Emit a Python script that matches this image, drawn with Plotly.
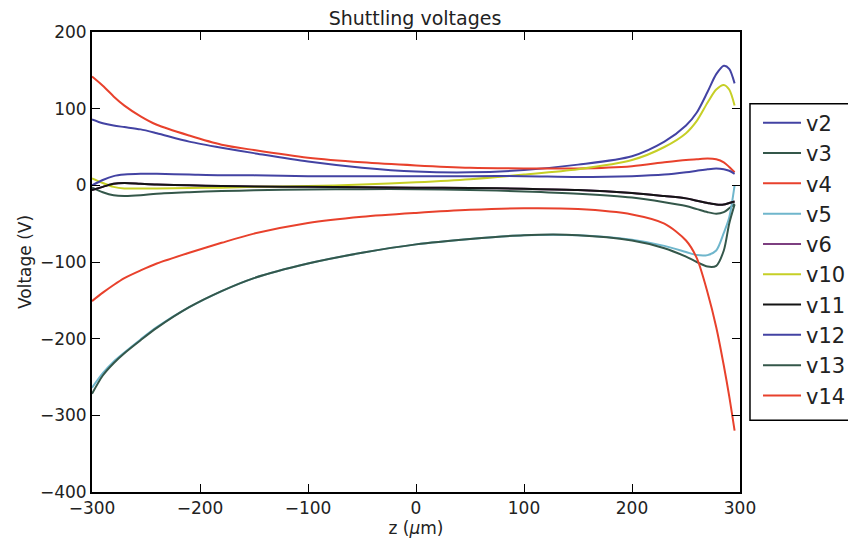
import plotly.graph_objects as go

z = [-300, -290, -280, -270, -255, -240, -210, -180, -150, -100, -50, 0,
     50, 100, 150, 200, 230, 250, 260, 270, 278, 285, 290, 295]

v2 = [86, 81, 78, 76, 73, 68, 57, 49, 42, 31, 23, 18,
      17, 20, 27, 38, 57, 78, 95, 122, 145, 156, 152, 133]
v3 = [-3, -9, -13, -14, -13, -11, -9, -7.5, -6.5, -5.5, -5, -5,
      -6, -8, -11, -16, -22, -27, -31, -35, -37, -35, -30, -24]
v4 = [142, 130, 116, 104, 90, 79, 65, 53, 46, 36, 30, 26,
      23, 22, 22, 25, 30, 33, 34, 35, 34, 30, 24, 17]
v5 = [-264, -245, -230, -218, -201, -185, -159, -138, -121, -102, -88, -77,
      -70, -65, -65, -71, -79, -87, -91, -91, -85, -62, -42, 0]
v6 = [-6, -2, 2, 3, 2, 1, 0, -1, -1.5, -2, -2.5, -3,
      -3.5, -4.5, -6, -10, -14, -17, -20, -23, -25, -25, -23, -21]
v10 = [9, 3, -2, -4, -4, -4, -3.5, -3, -2, -1, 1, 4,
       8, 14, 21, 33, 50, 68, 84, 108, 125, 131, 125, 104]
v11 = [-6, -2, 2, 3, 2, 1, 0, -1, -1.5, -2, -2.5, -3,
       -3.5, -4.5, -6, -10, -14, -17, -20, -23, -25, -25, -23, -21]
v12 = [0, 7, 12, 14, 15, 15, 14, 13, 13, 12, 12, 12,
       12, 12, 11, 12, 14, 17, 19, 21, 22, 21, 19, 15]
v13 = [-272, -248, -232, -219, -202, -186, -159, -138, -121, -102, -88, -77,
       -70, -65, -65, -72, -82, -93, -100, -106, -105, -85, -50, -25]
v14 = [-151, -140, -130, -121, -111, -102, -88, -75, -63, -49, -41, -36,
       -32, -30, -31, -38, -50, -72, -95, -140, -185, -235, -275, -320]

names = ['v2', 'v3', 'v4', 'v5', 'v6', 'v10', 'v11', 'v12', 'v13', 'v14']
series = [v2, v3, v4, v5, v6, v10, v11, v12, v13, v14]
colors = ['#4343a3', '#34574a', '#e8412c', '#6fb6cc', '#7d3f80',
          '#c6cf26', '#141414', '#4343a3', '#34574a', '#e8412c']

fig = go.Figure()
for name, vals, col in zip(names, series, colors):
    fig.add_trace(go.Scatter(x=z, y=vals, name=name, mode='lines', legendgroup=name,
                             line=dict(color=col, width=2, shape='spline', smoothing=0.8)))

# legend frame, runs off the right edge like in the original
fig.add_shape(type='rect', xref='paper', yref='paper', x0=1.0154, x1=1.4, y0=0.156, y1=0.8438,
              line=dict(color='black', width=1.5), fillcolor='rgba(0,0,0,0)', layer='above')

font = 'DejaVu Sans, Verdana, sans-serif'
fig.update_layout(
    width=856, height=548,
    title=dict(text='Shuttling voltages', x=0.4755, xanchor='center',
               y=1, yanchor='top', pad=dict(t=4), font=dict(size=19, color='#222')),
    font=dict(family=font, color='#222', size=17),
    plot_bgcolor='white', paper_bgcolor='white',
    margin=dict(l=84, r=124, t=24, b=64),
    legend=dict(x=1.0278, y=0.8465, xanchor='left', yanchor='top',
                borderwidth=0, font=dict(size=21), itemwidth=38,
                traceorder='grouped', tracegroupgap=0, bgcolor='rgba(0,0,0,0)'),
)
fig.update_xaxes(range=[-300, 300], tickvals=[-300, -200, -100, 0, 100, 200, 300],
                 ticktext=['\u2212300', '\u2212200', '\u2212100', '0', '100', '200', '300'],
                 showgrid=False, zeroline=False, showline=True, linecolor='black', linewidth=2,
                 mirror='allticks', ticks='inside', ticklen=8, tickcolor='black',
                 automargin=False,
                 title=dict(text='z (<i>\u03bc</i>m)', standoff=2, font=dict(size=17)))
fig.update_yaxes(range=[-400, 200], tickvals=[-400, -300, -200, -100, 0, 100, 200],
                 ticktext=['\u2212400', '\u2212300', '\u2212200', '\u2212100', '0', '100', '200'],
                 showgrid=False, zeroline=False, showline=True, linecolor='black', linewidth=2,
                 mirror='allticks', ticks='inside', ticklen=8, tickcolor='black',
                 automargin=False,
                 title=dict(text='Voltage (V)', standoff=4, font=dict(size=17)))

fig.write_html('out.html')
